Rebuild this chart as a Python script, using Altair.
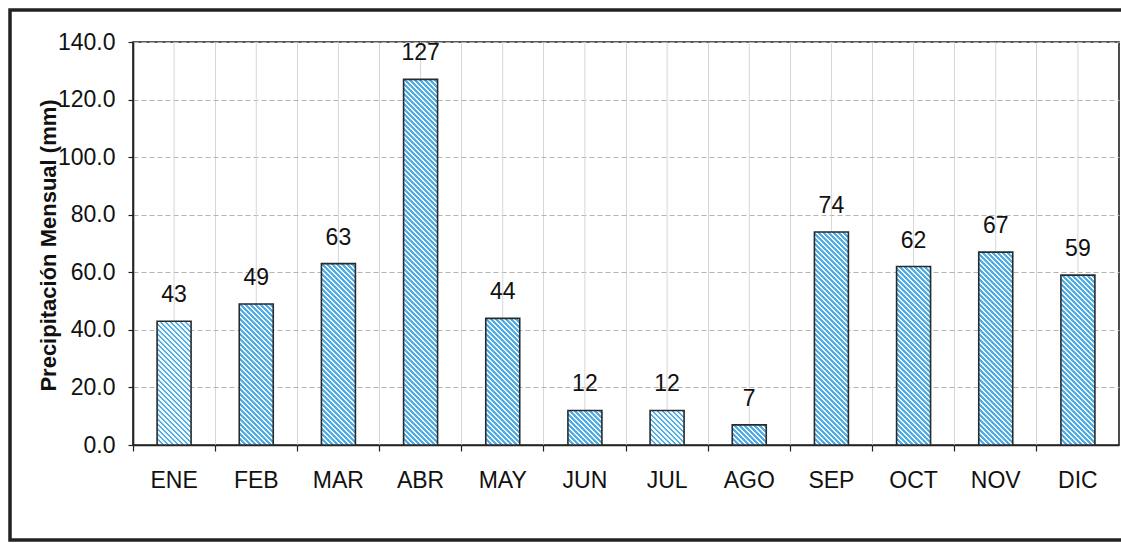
import altair as alt
import pandas as pd

# Monthly precipitation (mm)
months = ["ENE", "FEB", "MAR", "ABR", "MAY", "JUN", "JUL", "AGO", "SEP", "OCT", "NOV", "DIC"]
precip = [43, 49, 63, 127, 44, 12, 12, 7, 74, 62, 67, 59]
y_ticks = [0, 20, 40, 60, 80, 100, 120, 140]

df = pd.DataFrame({"month": months, "value": precip})

FONT = "Liberation Sans"
PLOT_W, PLOT_H = 986, 403
Y_MAX = 140
BAR_W = 34
BLUE = "#52ade4"
WHITE = "#f2f9fd"


def hatch_fill(value, period=5.0, blue_frac=0.58):
    """Diagonal stripe fill for one bar, built as a hard-stop linear gradient.

    The gradient runs in the bar's bounding-box units, so its direction is
    adjusted by the bar's aspect ratio to keep the stripes at 45 degrees.
    """
    h = value / Y_MAX * PLOT_H
    w = BAR_W
    total = w + h
    r = h / w
    a = total / (w * (1 + r * r))
    stops = []
    s = 0.0
    while s < total:
        b_end = min(s + period * blue_frac, total)
        e = min(s + period, total)
        for color, off in ((BLUE, s), (BLUE, b_end), (WHITE, b_end), (WHITE, e)):
            stops.append(alt.GradientStop(color=color, offset=round(off / total, 5)))
        s += period
    return alt.Gradient(gradient="linear", x1=0, y1=1, x2=a, y2=1 - a * r, stops=stops)


x_enc = alt.X(
    "month:N",
    sort=months,
    title=None,
    scale=alt.Scale(paddingInner=0, paddingOuter=0),
    axis=alt.Axis(
        bandPosition=0,
        grid=True,
        gridColor="#d6d6d6",
        gridWidth=1,
        ticks=True,
        tickSize=6,
        tickColor="#222",
        tickWidth=1.2,
        domainColor="#222",
        domainWidth=1.6,
        labelFont=FONT,
        labelFontSize=23,
        labelColor="#111",
        labelPadding=18,
        labelAngle=0,
    ),
)

y_enc = alt.Y(
    "value:Q",
    scale=alt.Scale(domain=[0, Y_MAX]),
    axis=alt.Axis(
        values=y_ticks,
        format=".1f",
        title="Precipitación Mensual (mm)",
        titleFont=FONT,
        titleFontSize=22,
        titleFontWeight="bold",
        titleColor="#111",
        titleAngle=270,
        titleX=-78,
        titleY=203,
        titleAlign="center",
        titleBaseline="alphabetic",
        grid=True,
        gridColor="#b4b4b4",
        gridDash=[5, 3],
        gridWidth=1,
        ticks=True,
        tickSize=5,
        tickColor="#222",
        tickWidth=1.2,
        domainColor="#222",
        domainWidth=1.6,
        labelFont=FONT,
        labelFontSize=23,
        labelColor="#111",
        labelPadding=13,
    ),
)

# Vertical guide lines through the middle of each month
center_lines = alt.Chart(df).mark_rule(color="#d6d6d6", strokeWidth=1).encode(x=x_enc)

# One bar layer per month, each with its own stripe fill
bars = [
    alt.Chart(df)
    .transform_filter(alt.datum.month == m)
    .mark_bar(size=BAR_W, fill=hatch_fill(v), stroke="#2a2a2a", strokeWidth=1.6)
    .encode(x=x_enc, y=y_enc)
    for m, v in zip(months, precip)
]

labels = (
    alt.Chart(df)
    .mark_text(font=FONT, fontSize=23, color="#111", baseline="alphabetic", dy=-19)
    .encode(x=x_enc, y=y_enc, text=alt.Text("value:Q", format="d"))
)

# Border around the whole figure
frame = (
    alt.Chart(alt.Data(values=[{}]))
    .mark_rect(filled=False, stroke="#222", strokeWidth=3.5)
    .encode(
        x=alt.value(-123),
        x2=alt.value(1000),
        y=alt.value(-32),
        y2=alt.value(498),
    )
)

chart = (
    alt.layer(center_lines, *bars, labels, frame)
    .properties(
        width=PLOT_W,
        height=PLOT_H,
        autosize="none",
        padding={"left": 133, "top": 42, "right": 2, "bottom": 98},
        background="white",
    )
    .configure_view(stroke="#222", strokeWidth=1.6)
)

chart.save("out.html", embed_options={"renderer": "svg", "actions": False})
